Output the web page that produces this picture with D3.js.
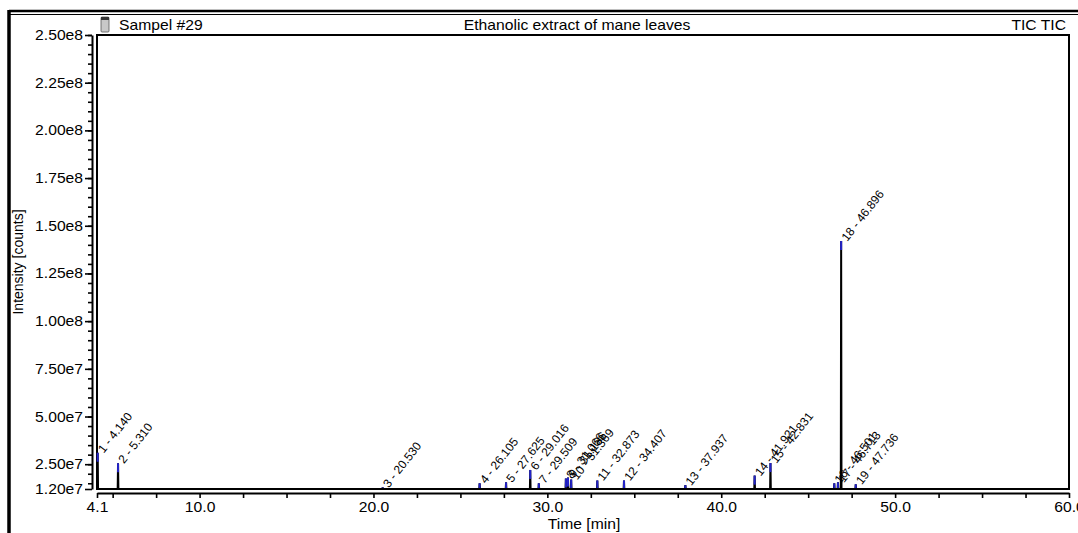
<!DOCTYPE html>
<html>
<head>
<meta charset="utf-8">
<script src="https://cdn.jsdelivr.net/npm/d3@7"></script>
<style>
body { margin: 0; background: #fff; }
svg { display: block; font-family: Arial, "Liberation Sans", sans-serif; }
</style>
</head>
<body>
<div id="chart"></div>
<script>
// peak table
var peakNo = [1, 2, 3, 4, 5, 6, 7, 8, 9, 10, 11, 12, 13, 14, 15, 16, 17, 18, 19];
var peakTime = [4.140, 5.310, 20.530, 26.105, 27.625, 29.016, 29.509, 31.066, 31.186, 31.369,
                32.873, 34.407, 37.937, 41.921, 42.831, 46.501, 46.713, 46.896, 47.736];
var peakHeight = [3.1e7, 2.55e7, 1.28e7, 1.5e7, 1.55e7, 2.2e7, 1.5e7, 1.75e7, 1.8e7, 1.7e7,
                  1.65e7, 1.65e7, 1.4e7, 1.9e7, 2.56e7, 1.5e7, 1.55e7, 1.42e8, 1.45e7];
var baseline = 1.2e7;

var yMajorTicks = [1.2e7, 2.5e7, 5e7, 7.5e7, 1e8, 1.25e8, 1.5e8, 1.75e8, 2e8, 2.25e8, 2.5e8];
var xMajorTicks = [4.1, 10, 20, 30, 40, 50, 60];
var headerLeft = "Sampel #29",
    headerCenter = "Ethanolic extract of mane leaves",
    headerRight = "TIC TIC";
var xTitle = "Time [min]", yTitle = "Intensity [counts]";

var W = 1078, H = 533;
var plot = {left: 97, top: 35, right: 1069, bottom: 489};
var stretch = "scale(1.12,1)";

var svg = d3.select("#chart").append("svg")
    .attr("width", W)
    .attr("height", H);

var x = d3.scaleLinear().domain([4.1, 60]).range([plot.left, plot.right]);
var y = d3.scaleLinear().domain([baseline, 2.5e8]).range([plot.bottom, plot.top]);

// outer figure frame
svg.append("line").attr("x1", 9).attr("x2", W).attr("y1", 11).attr("y2", 11)
    .style("stroke", "#000").style("stroke-width", 2.5);
svg.append("line").attr("x1", 9).attr("x2", W).attr("y1", 14.5).attr("y2", 14.5)
    .style("stroke", "#000").style("stroke-width", 1.2);
svg.append("line").attr("x1", 9).attr("x2", 9).attr("y1", 10).attr("y2", H)
    .style("stroke", "#000").style("stroke-width", 3.5);

// header
var icon = svg.append("g").attr("transform", "translate(101,17)");
icon.append("rect").attr("width", 8).attr("height", 15).attr("rx", 1)
    .style("fill", "#c8c8c8").style("stroke", "#555").style("stroke-width", 0.8);
icon.append("rect").attr("width", 8).attr("height", 3)
    .style("fill", "#333");

function hText(tx, ty, anchor, txt, size) {
    svg.append("text")
        .attr("transform", "translate(" + tx + "," + ty + ") " + stretch)
        .attr("text-anchor", anchor)
        .style("font-size", size + "px")
        .text(txt);
}
hText(119, 29.5, "start", headerLeft, 14);
hText(577, 29.5, "middle", headerCenter, 14);
hText(1066, 29.5, "end", headerRight, 14);

// plot frame
svg.append("rect")
    .attr("x", plot.left).attr("y", plot.top)
    .attr("width", plot.right - plot.left).attr("height", plot.bottom - plot.top)
    .style("fill", "none").style("stroke", "#000").style("stroke-width", 2);

// y axis
var yAxisG = svg.append("g").attr("transform", "translate(92,0)");
yAxisG.append("g")
    .call(d3.axisLeft(y).tickValues(d3.range(1.5e7, 2.5e8 + 1, 5e6)).tickSize(4).tickFormat(""))
    .call(function (g) { g.select(".domain").remove(); });
yAxisG.append("g")
    .attr("class", "y-major")
    .call(d3.axisLeft(y).tickValues(yMajorTicks).tickSize(7).tickPadding(1)
        .tickSizeOuter(0)
        .tickFormat(function (d) { return d3.format(".2e")(d).replace("e+", "e"); }));
yAxisG.selectAll("line").style("stroke", "#000").style("stroke-width", 1.6);
yAxisG.selectAll(".domain").style("stroke", "#000").style("stroke-width", 2);
yAxisG.selectAll("text")
    .attr("transform", stretch)
    .style("font-size", "14px")
    .style("fill", "#000");

// x axis
var xAxisG = svg.append("g").attr("transform", "translate(0,493)");
xAxisG.append("g")
    .call(d3.axisBottom(x).tickValues(d3.range(5, 60, 2.5).filter(function (d) { return d % 10 !== 0; }))
        .tickSize(5).tickFormat(""))
    .call(function (g) { g.select(".domain").remove(); });
xAxisG.append("g")
    .call(d3.axisBottom(x).tickValues(xMajorTicks).tickSize(5).tickPadding(4).tickSizeOuter(0)
        .tickFormat(d3.format(".1f")));
xAxisG.selectAll("line").style("stroke", "#000").style("stroke-width", 1.6);
xAxisG.selectAll(".domain").style("stroke", "#000").style("stroke-width", 2);
xAxisG.selectAll("text")
    .attr("transform", stretch)
    .style("font-size", "14px")
    .style("fill", "#000");

// axis titles
hText(584, 529, "middle", xTitle, 14);
svg.append("text")
    .attr("transform", "translate(23,262) rotate(-90)")
    .attr("text-anchor", "middle")
    .style("font-size", "14px")
    .text(yTitle);

// chromatogram trace
var peaks = peakNo.map(function (n, i) {
    return {no: n, t: peakTime[i], h: peakHeight[i]};
});
var tracePts = [[4.1, baseline]];
peaks.forEach(function (p) {
    tracePts.push([p.t - 0.02, baseline], [p.t, p.h], [p.t + 0.02, baseline]);
});
tracePts.push([60, baseline]);

var line = d3.line()
    .x(function (d) { return x(d[0]); })
    .y(function (d) { return y(d[1]); });

svg.append("path")
    .datum(tracePts)
    .attr("d", line)
    .style("fill", "none")
    .style("stroke", "#000")
    .style("stroke-width", 2);

// peak apex markers
svg.append("g").selectAll("line")
    .data(peaks)
    .enter()
    .append("line")
    .attr("x1", function (d) { return x(d.t); })
    .attr("x2", function (d) { return x(d.t); })
    .attr("y1", function (d) { return y(d.h); })
    .attr("y2", function (d) { return Math.min(y(d.h) + 9, y(baseline) - 1); })
    .style("stroke", "#2323c8")
    .style("stroke-width", 2);

// peak labels
svg.append("g").selectAll("text")
    .data(peaks)
    .enter()
    .append("text")
    .attr("transform", function (d) {
        return "translate(" + (x(d.t) + 6) + "," + (y(d.h) + 1) + ") rotate(-52)";
    })
    .style("font-size", "12px")
    .style("fill", "#000")
    .text(function (d) { return d.no + " - " + d.t.toFixed(3); });
</script>
</body>
</html>
